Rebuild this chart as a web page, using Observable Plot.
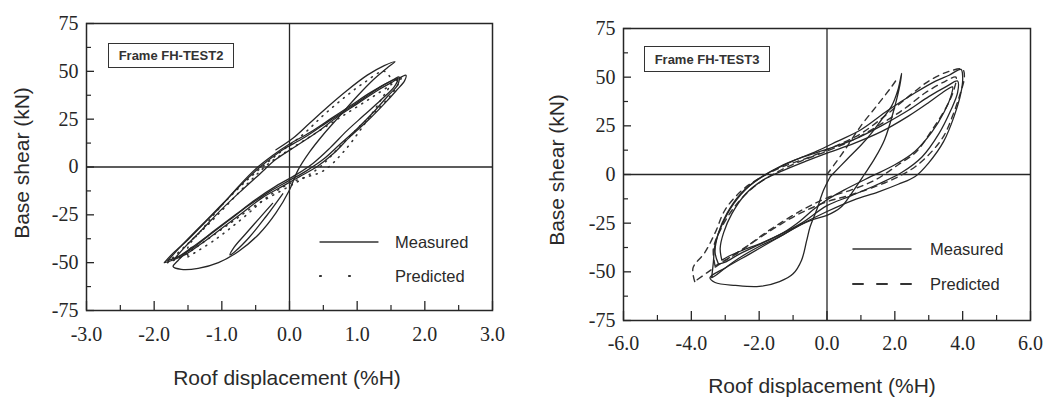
<!DOCTYPE html>
<html><head><meta charset="utf-8">
<script src="https://cdn.jsdelivr.net/npm/d3@7"></script>
<script src="https://cdn.jsdelivr.net/npm/@observablehq/plot@0.6"></script>
<style>
body{margin:0;background:#fff;}
#wrap{position:relative;width:1049px;height:397px;overflow:hidden;background:#fff;}
.panel{position:absolute;top:0;}
.lbl{position:absolute;font-family:"Liberation Sans",Arial,sans-serif;color:#2a2a2a;white-space:nowrap;}
.box{position:absolute;border:1.5px solid #333;font-family:"Liberation Sans",Arial,sans-serif;font-size:13px;font-weight:bold;color:#333;display:flex;align-items:center;justify-content:center;box-sizing:border-box;}
.title{font-size:21px;transform:translate(-50%,-50%);}
.ytitle{font-size:21px;transform:translate(-50%,-50%) rotate(-90deg);}
.leg{font-size:16.5px;transform:translateY(-50%);}
</style></head>
<body><div id="wrap"></div>
<script>
// ---------- FH-TEST2 ----------
const test2XTicks = [-3, -2, -1, 0, 1, 2, 3];
const test2XMinor = [-2.5, -1.5, -0.5, 0.5, 1.5, 2.5];
const test2YTicks = [75, 50, 25, 0, -25, -50, -75];
const test2YMinor = [62.5, 37.5, 12.5, -12.5, -37.5, -62.5];

const test2MeasuredA = [[-1.85,-50],[-1.72,-45],[-1.5,-38],[-1.25,-29],[-1.0,-20],[-0.75,-10],[-0.5,-1],[-0.25,6],[0,12],[0.3,18],[0.6,25],[0.9,32],[1.2,39],[1.45,44],[1.65,47],[1.72,48],[1.7,45],[1.58,40],[1.4,33],[1.15,24],[0.9,16],[0.65,7],[0.4,0],[0.15,-5],[-0.1,-10],[-0.4,-16],[-0.7,-24],[-1.0,-32],[-1.3,-40],[-1.55,-46],[-1.75,-49],[-1.85,-50]];
const test2MeasuredB = [[-1.8,-49],[-1.62,-42],[-1.4,-34],[-1.15,-25],[-0.9,-16],[-0.65,-7],[-0.4,1],[-0.1,9],[0.2,15],[0.5,22],[0.8,29],[1.1,36],[1.35,42],[1.55,46],[1.62,47],[1.6,43],[1.45,37],[1.25,29],[1.0,20],[0.75,12],[0.5,4],[0.25,-2],[0,-7],[-0.3,-13],[-0.6,-20],[-0.9,-28],[-1.2,-36],[-1.45,-43],[-1.65,-47],[-1.8,-49]];
const test2MeasuredC = [[-1.7,-48],[-1.55,-42],[-1.3,-33],[-1.0,-22],[-0.7,-12],[-0.45,-4],[-0.2,4],[0.1,11],[0.4,18],[0.7,26],[1.0,33],[1.3,40],[1.5,44],[1.6,46],[1.55,42],[1.35,35],[1.1,27],[0.85,19],[0.6,10],[0.35,2],[0.1,-4],[-0.2,-10],[-0.5,-17],[-0.8,-25],[-1.1,-33],[-1.4,-41],[-1.6,-46],[-1.7,-48]];
const test2MeasuredOuter = [[-1.45,-42],[-1.65,-49],[-1.72,-52],[-1.6,-53.5],[-1.35,-53],[-1.05,-50],[-0.75,-44],[-0.45,-35],[-0.2,-24],[0.0,-12],[0.12,-2],[0.3,8],[0.5,17],[0.75,27],[1.0,37],[1.25,46],[1.45,52],[1.56,55],[1.4,53],[1.15,48],[0.85,40],[0.55,31],[0.3,23],[0.05,15],[-0.2,9]];
const test2MeasuredHook = [[-0.1,-14],[-0.35,-26],[-0.6,-37],[-0.8,-44],[-0.88,-46],[-0.82,-42],[-0.65,-35],[-0.45,-27],[-0.25,-19]];
const test2PredictedA = [[-1.8,-50],[-1.5,-40],[-1.2,-30],[-0.9,-19],[-0.6,-8],[-0.3,2],[0,9],[0.4,18],[0.8,27],[1.2,36],[1.5,43],[1.65,47],[1.55,40],[1.3,30],[1.0,20],[0.7,9],[0.45,0],[0.2,-6],[-0.1,-12],[-0.5,-20],[-0.9,-30],[-1.3,-40],[-1.6,-47],[-1.8,-50]];
const test2PredictedB = [[-1.5,-47],[-1.1,-38],[-0.7,-27],[-0.3,-15],[0.1,-7],[0.5,-2],[0.8,8],[1.1,22],[1.35,35],[1.5,45],[1.4,50],[1.1,44],[0.8,36],[0.5,27],[0.2,17],[-0.2,6],[-0.6,-6],[-1.0,-20],[-1.3,-33],[-1.5,-42],[-1.5,-47]];

// ---------- FH-TEST3 ----------
const test3XTicks = [-6, -4, -2, 0, 2, 4, 6];
const test3XMinor = [-5, -3, -1, 1, 3, 5];
const test3YTicks = [75, 50, 25, 0, -25, -50, -75];
const test3YMinor = [62.5, 37.5, 12.5, -12.5, -37.5, -62.5];

const test3MeasuredA = [[-3.1,-44],[-3.15,-38],[-3.05,-30],[-2.8,-20],[-2.4,-10],[-1.9,-3],[-1.3,2],[-0.6,7],[0,11],[0.8,16],[1.6,22],[2.4,30],[3.0,37],[3.4,42],[3.7,45],[3.65,40],[3.45,32],[3.1,22],[2.6,12],[2.0,5],[1.3,-1],[0.5,-8],[0,-13],[-0.4,-18],[-0.8,-24],[-1.3,-30],[-1.9,-35],[-2.5,-39],[-2.9,-42],[-3.1,-44]];
const test3MeasuredB = [[-3.2,-46],[-3.3,-40],[-3.2,-30],[-2.95,-20],[-2.55,-10],[-2.0,-2],[-1.4,4],[-0.7,9],[0,13],[0.8,18],[1.6,25],[2.4,33],[3.0,40],[3.5,45],[3.85,48],[3.85,42],[3.65,33],[3.3,21],[2.8,9],[2.2,1],[1.5,-5],[0.7,-11],[0,-16],[-0.75,-25],[-1.4,-31],[-2.0,-36],[-2.6,-41],[-3.0,-45],[-3.2,-46]];
const test3MeasuredC = [[-3.4,-53],[-3.35,-45],[-3.3,-36],[-3.1,-26],[-2.75,-15],[-2.3,-6],[-1.7,1],[-1.0,7],[-0.3,12],[0.3,17],[1.0,23],[1.8,33],[2.6,42],[3.2,48],[3.6,51],[3.95,54],[4.0,50],[3.95,42],[3.75,30],[3.44,17],[3.0,6],[2.6,-1],[2.1,-5],[1.5,-9],[0.8,-13],[0,-19],[-0.8,-26],[-1.3,-31],[-2.0,-37],[-2.6,-43],[-3.0,-48],[-3.3,-52],[-3.4,-53]];
const test3MeasuredFirst = [[0.1,-1],[0.6,8],[1.0,15],[1.3,21],[1.6,28],[1.9,35],[2.1,44],[2.2,52],[2.15,46],[2.0,35],[1.7,18],[1.4,8],[1.1,0],[0.75,-9],[0.4,-17],[0,-21],[-0.4,-23],[-0.8,-26],[-1.5,-33],[-2.3,-41],[-3.0,-48],[-3.45,-53],[-3.3,-55.5],[-2.7,-57],[-2.0,-57.5],[-1.4,-55],[-1.0,-51],[-0.75,-44],[-0.6,-34],[-0.5,-27],[-0.3,-18],[-0.1,-8],[0.1,-1]];
const test3PredictedA = [[-3.9,-55],[-3.95,-48],[-3.6,-40],[-3.3,-30],[-3.0,-18],[-2.5,-8],[-2.0,-2],[-1.3,4],[-0.5,9],[0.3,15],[1.0,21],[1.7,30],[2.4,40],[3.0,48],[3.6,53],[4.0,54],[4.05,50],[3.9,40],[3.7,30],[3.45,20],[3.1,12],[2.6,4],[2.0,-2],[1.3,-7],[0.6,-11],[0,-14],[-0.8,-20],[-1.5,-27],[-2.2,-35],[-2.9,-43],[-3.5,-50],[-3.9,-55]];
const test3PredictedB = [[-3.3,-47],[-3.35,-38],[-3.1,-27],[-2.7,-16],[-2.2,-7],[-1.6,0],[-0.9,6],[0,12],[0.8,18],[1.6,26],[2.3,34],[2.9,42],[3.5,48],[3.8,50],[3.75,44],[3.5,34],[3.1,23],[2.65,12],[2.1,5],[1.4,-3],[0.7,-8],[0,-12],[-0.6,-17],[-1.2,-23],[-1.9,-31],[-2.6,-40],[-3.0,-44],[-3.3,-47]];
const test3PredictedFirst = [[0,0],[0.5,12],[1.0,25],[1.5,36],[1.9,45],[2.1,50]];

// ---------- panels ----------
const ink = "#262626";
function table(loops) {
  return loops.flatMap((pts, i) => pts.map(([x, y]) => ({x, y, loop: i})));
}
function panel(cfg) {
  const iw = cfg.width - cfg.ml - cfg.mr;
  const ih = cfg.height - cfg.mt - cfg.mb;
  return Plot.plot({
    width: cfg.width, height: cfg.height,
    marginLeft: cfg.ml, marginRight: cfg.mr, marginTop: cfg.mt, marginBottom: cfg.mb,
    style: {fontFamily: "'Liberation Serif', 'Times New Roman', serif", fontSize: "20px", color: ink, background: "transparent"},
    x: {domain: cfg.xDomain, ticks: cfg.xTicks, tickFormat: d => d.toFixed(1), tickSize: 0, tickPadding: cfg.xPad, label: null},
    y: {domain: [-75, 75], ticks: cfg.yTicks, tickFormat: d => String(d), tickSize: 0, tickPadding: 8, label: null},
    marks: [
      Plot.ruleX([0], {stroke: ink, strokeWidth: 1.3}),
      Plot.ruleY([0], {stroke: ink, strokeWidth: 1.3}),
      Plot.line(table(cfg.predicted), {x: "x", y: "y", z: "loop", curve: "catmull-rom", stroke: "#333", strokeWidth: cfg.predWidth, strokeDasharray: cfg.dash, strokeLinecap: "round", clip: true}),
      Plot.line(table(cfg.measured), {x: "x", y: "y", z: "loop", curve: "catmull-rom", stroke: ink, strokeWidth: 1.3, clip: true}),
      Plot.tickY(cfg.yTicks, {y: d => d, stroke: ink, strokeWidth: 1.3, insetRight: iw - 8}),
      Plot.tickY(cfg.yMinor, {y: d => d, stroke: ink, strokeWidth: 1.2, insetRight: iw - 5}),
      Plot.tickX(cfg.xTicks, {x: d => d, stroke: ink, strokeWidth: 1.3, insetTop: ih - 9}),
      Plot.tickX(cfg.xMinor, {x: d => d, stroke: ink, strokeWidth: 1.2, insetTop: ih - 5}),
      Plot.frame({stroke: ink, strokeWidth: 1.5})
    ]
  });
}

const wrap = document.getElementById("wrap");
const left = panel({
  width: 520, height: 397, ml: 86, mr: 28, mt: 23, mb: 87, xPad: 16,
  xDomain: [-3, 3], xTicks: test2XTicks, xMinor: test2XMinor, yTicks: test2YTicks, yMinor: test2YMinor,
  measured: [test2MeasuredA, test2MeasuredB, test2MeasuredC, test2MeasuredOuter, test2MeasuredHook],
  predicted: [test2PredictedA, test2PredictedB], dash: "1,6", predWidth: 1.6
});
const right = panel({
  width: 529, height: 397, ml: 103, mr: 19, mt: 28, mb: 77, xPad: 15,
  xDomain: [-6, 6], xTicks: test3XTicks, xMinor: test3XMinor, yTicks: test3YTicks, yMinor: test3YMinor,
  measured: [test3MeasuredA, test3MeasuredB, test3MeasuredC, test3MeasuredFirst],
  predicted: [test3PredictedA, test3PredictedB, test3PredictedFirst], dash: "6,5", predWidth: 1.4
});
const d1 = document.createElement("div"); d1.className = "panel"; d1.style.left = "0px"; d1.appendChild(left); wrap.appendChild(d1);
const d2 = document.createElement("div"); d2.className = "panel"; d2.style.left = "520px"; d2.appendChild(right); wrap.appendChild(d2);

function addText(cls, text, x, y) {
  const e = document.createElement("div"); e.className = "lbl " + cls; e.textContent = text;
  e.style.left = x + "px"; e.style.top = y + "px"; wrap.appendChild(e); return e;
}
function addBox(text, x, y, w, h) {
  const e = document.createElement("div"); e.className = "box"; e.textContent = text;
  Object.assign(e.style, {left: x + "px", top: y + "px", width: w + "px", height: h + "px"}); wrap.appendChild(e);
}
function addSwatch(x, y, w, dash, sw) {
  const ns = "http://www.w3.org/2000/svg";
  const s = document.createElementNS(ns, "svg");
  s.setAttribute("width", w); s.setAttribute("height", 6);
  Object.assign(s.style, {position: "absolute", left: x + "px", top: (y - 3) + "px"});
  const l = document.createElementNS(ns, "line");
  l.setAttribute("x1", 1); l.setAttribute("x2", w - 1); l.setAttribute("y1", 3); l.setAttribute("y2", 3);
  l.setAttribute("stroke", "#333"); l.setAttribute("stroke-width", sw); l.setAttribute("stroke-linecap", "round");
  if (dash) l.setAttribute("stroke-dasharray", dash);
  s.appendChild(l); wrap.appendChild(s);
}

// titles
addText("title", "Roof displacement (%H)", 287, 378);
addText("title", "Roof displacement (%H)", 822, 386);
addText("ytitle", "Base shear (kN)", 22, 163);
addText("ytitle", "Base shear (kN)", 557, 170);
// frame labels
addBox("Frame FH-TEST2", 108, 43, 126, 25);
addBox("Frame FH-TEST3", 644, 46, 126, 26);
// legends
addSwatch(319, 242, 60, null, 1.3);
addText("leg", "Measured", 395, 242);
addSwatch(319, 276, 60, "1,28", 2.2);
addText("leg", "Predicted", 395, 276);
addSwatch(852, 249, 60, null, 1.5);
addText("leg", "Measured", 930, 249);
addSwatch(852, 284, 60, "10,14", 2);
addText("leg", "Predicted", 930, 284);
</script></body></html>
